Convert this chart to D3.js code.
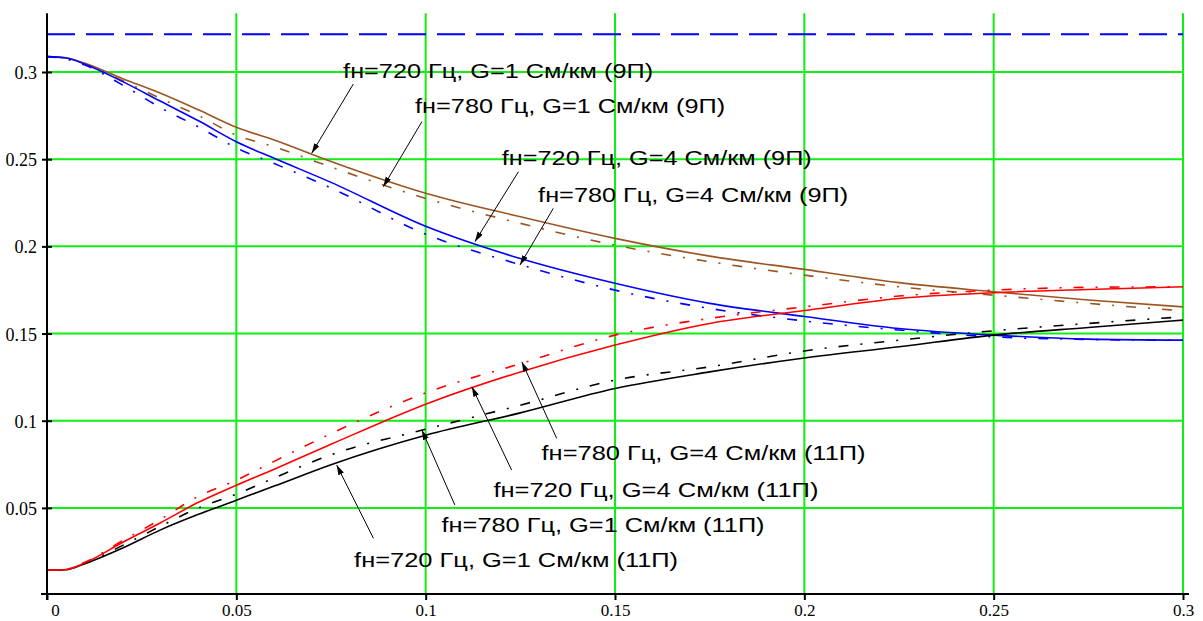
<!DOCTYPE html>
<html><head><meta charset="utf-8">
<script src="https://cdn.jsdelivr.net/npm/d3@7"></script>
<style>body{margin:0;background:#fff}</style>
</head><body>
<svg id="c" width="1203" height="621"></svg>
<script>
// ---------- data ----------
const xVals = [0,0.005,0.01,0.02,0.03,0.04,0.05,0.06,0.075,0.1,0.125,0.15,0.175,0.2,0.225,0.25,0.275,0.3];
const brown720G1 = [0.3088,0.3082,0.305,0.2962,0.2878,0.2783,0.2683,0.261,0.2487,0.2305,0.217,0.2046,0.1944,0.1868,0.1792,0.174,0.1692,0.1653];
const brown780G1 = [0.3088,0.308,0.3045,0.295,0.2848,0.275,0.2638,0.2571,0.2455,0.2275,0.2132,0.2007,0.1912,0.1835,0.1768,0.172,0.1673,0.163];
const blue720G4  = [0.3088,0.308,0.3045,0.2945,0.2832,0.272,0.26,0.2505,0.2367,0.2115,0.193,0.1788,0.1673,0.1598,0.1529,0.1491,0.1468,0.1462];
const blue780G4  = [0.3088,0.3075,0.304,0.2925,0.2795,0.2685,0.2565,0.2475,0.2335,0.207,0.1895,0.1749,0.1644,0.1572,0.152,0.1481,0.1466,0.1462];
const black720G1 = [0.0142,0.0145,0.018,0.027,0.0374,0.0463,0.0544,0.0625,0.0748,0.0917,0.1045,0.1185,0.128,0.136,0.1424,0.1491,0.1535,0.1577];
const black780G1 = [0.0142,0.0146,0.0182,0.0285,0.0395,0.05,0.0579,0.0672,0.0805,0.0951,0.1089,0.1233,0.1309,0.14,0.1462,0.1516,0.1558,0.1596];
const red720G4   = [0.0142,0.0147,0.0185,0.0303,0.0415,0.0532,0.063,0.0722,0.0865,0.1095,0.128,0.1434,0.1558,0.1632,0.1701,0.1734,0.1753,0.1768];
const red780G4   = [0.0142,0.0148,0.0188,0.0313,0.0435,0.0567,0.0659,0.0767,0.0926,0.116,0.1327,0.1491,0.1587,0.1653,0.1715,0.1749,0.1765,0.1768];
const limitValue = 0.3216;
const xTickVals = [0,0.05,0.1,0.15,0.2,0.25,0.3];
const xTickLabels = ["0","0.05","0.1","0.15","0.2","0.25","0.3"];
const yTickVals = [0.05,0.1,0.15,0.2,0.25,0.3];
const yTickLabels = ["0.05","0.1","0.15","0.2","0.25","0.3"];
const labels = [
  "fн=720 Гц, G=1 См/км (9П)","fн=780 Гц, G=1 См/км (9П)",
  "fн=720 Гц, G=4 См/км (9П)","fн=780 Гц, G=4 См/км (9П)",
  "fн=780 Гц, G=4 См/км (11П)","fн=720 Гц, G=4 См/км (11П)",
  "fн=780 Гц, G=1 См/км (11П)","fн=720 Гц, G=1 См/км (11П)"
];

// ---------- layout ----------
const series = [
  {v: brown720G1, color:"#9c5522", dash:null},
  {v: brown780G1, color:"#9c5522", dash:"10,12,2,12"},
  {v: blue720G4,  color:"#0000ff", dash:null},
  {v: blue780G4,  color:"#0000ff", dash:"10,12,2,12"},
  {v: black720G1, color:"#000000", dash:null},
  {v: black780G1, color:"#000000", dash:"10,12,2,12"},
  {v: red720G4,   color:"#ff0000", dash:null},
  {v: red780G4,   color:"#ff0000", dash:"10,12,2,12"}
];
// annotation anchors in data units: text origin, arrow start, arrow tip
const ann = [
  {t:[0.0782,0.2964], s:[0.0809,0.2931], e:[0.0699,0.2534], w:310},
  {t:[0.0972,0.2763], s:[0.0990,0.2715], e:[0.0888,0.2342], w:310},
  {t:[0.1201,0.2467], s:[0.1245,0.2428], e:[0.1130,0.2027], w:310},
  {t:[0.1297,0.2256], s:[0.1337,0.2218], e:[0.1249,0.1893], w:310},
  {t:[0.1306,0.0775], s:[0.1346,0.0899], e:[0.1254,0.1338], w:324},
  {t:[0.1179,0.0564], s:[0.1227,0.0717], e:[0.1122,0.1195], w:325},
  {t:[0.1042,0.0363], s:[0.1077,0.0517], e:[0.0990,0.0947], w:323},
  {t:[0.0811,0.0163], s:[0.0862,0.0326], e:[0.0765,0.0746], w:324}
];

const svg = d3.select("#c");
const x = d3.scaleLinear().domain([0,0.3]).range([47,1183]);
const y = d3.scaleLinear().domain([0.00062,0.33367]).range([594,13.3]);
const grid = "#11ee11";

svg.append("defs").append("marker")
  .attr("id","ah").attr("markerUnits","userSpaceOnUse")
  .attr("markerWidth",12).attr("markerHeight",8)
  .attr("refX",10).attr("refY",3).attr("orient","auto")
  .append("path").attr("d","M0,0 L10,3 L0,6 Z").attr("fill","#000");

// grid
svg.append("g").selectAll("line").data(yTickVals).join("line")
  .attr("x1",x(0)).attr("x2",x(0.3)).attr("y1",d=>y(d)).attr("y2",d=>y(d))
  .attr("stroke",grid).attr("stroke-width",2);
svg.append("g").selectAll("line").data(xTickVals.slice(1)).join("line")
  .attr("x1",d=>x(d)).attr("x2",d=>x(d)).attr("y1",y.range()[1]).attr("y2",y.range()[0])
  .attr("stroke",grid).attr("stroke-width",2);

// limit line
svg.append("line").attr("x1",x(0)).attr("x2",x(0.3))
  .attr("y1",y(limitValue)).attr("y2",y(limitValue))
  .attr("stroke","#0000ff").attr("stroke-width",2).attr("stroke-dasharray","28,11");

// curves
const line = d3.line().x((d,i)=>x(xVals[i])).y(d=>y(d)).curve(d3.curveMonotoneX);
svg.append("g").selectAll("path").data(series).join("path")
  .attr("d",d=>line(d.v)).attr("fill","none")
  .attr("stroke",d=>d.color).attr("stroke-width",1.6)
  .attr("stroke-dasharray",d=>d.dash);

// axes
const yAxis = svg.append("g").attr("transform",`translate(${x(0)},0)`)
  .call(d3.axisLeft(y).tickValues(yTickVals).tickFormat((d,i)=>yTickLabels[i]).tickSize(5).tickPadding(5));
yAxis.select(".domain").remove();
yAxis.selectAll(".tick line").attr("x1",5).attr("x2",-5).attr("stroke","#000").attr("stroke-width",2);
yAxis.selectAll(".tick text").attr("font-family","'Liberation Serif','Times New Roman',serif")
  .attr("font-size",18).attr("fill","#000").attr("dy","0.36em");

const xAxis = svg.append("g").attr("transform",`translate(0,${y.range()[0]})`)
  .call(d3.axisBottom(x).tickValues(xTickVals).tickFormat((d,i)=>xTickLabels[i]).tickSize(6).tickPadding(4));
xAxis.select(".domain").remove();
xAxis.selectAll(".tick line").attr("stroke","#000").attr("stroke-width",2);
xAxis.selectAll(".tick text").attr("font-family","'Liberation Serif','Times New Roman',serif")
  .attr("font-size",17).attr("fill","#000")
  .attr("dx",(d,i)=>i===0?8:0);

svg.append("line").attr("x1",x(0)).attr("x2",x(0)).attr("y1",y.range()[1]).attr("y2",y.range()[0]+6)
  .attr("stroke","#000").attr("stroke-width",2);
svg.append("line").attr("x1",x(0)-6).attr("x2",x(0.3)+6).attr("y1",y.range()[0]).attr("y2",y.range()[0])
  .attr("stroke","#000").attr("stroke-width",2);

// annotations
const ag = svg.append("g");
ag.selectAll("line").data(ann).join("line")
  .attr("x1",d=>x(d.s[0])).attr("y1",d=>y(d.s[1]))
  .attr("x2",d=>x(d.e[0])).attr("y2",d=>y(d.e[1]))
  .attr("stroke","#000").attr("stroke-width",1).attr("marker-end","url(#ah)");
ag.selectAll("text").data(ann).join("text")
  .attr("x",d=>x(d.t[0])).attr("y",d=>y(d.t[1]))
  .attr("font-family","'Liberation Sans',Arial,sans-serif").attr("font-size",21)
  .attr("textLength",d=>d.w).attr("lengthAdjust","spacingAndGlyphs")
  .attr("fill","#000").text((d,i)=>labels[i]);
</script>
</body></html>
